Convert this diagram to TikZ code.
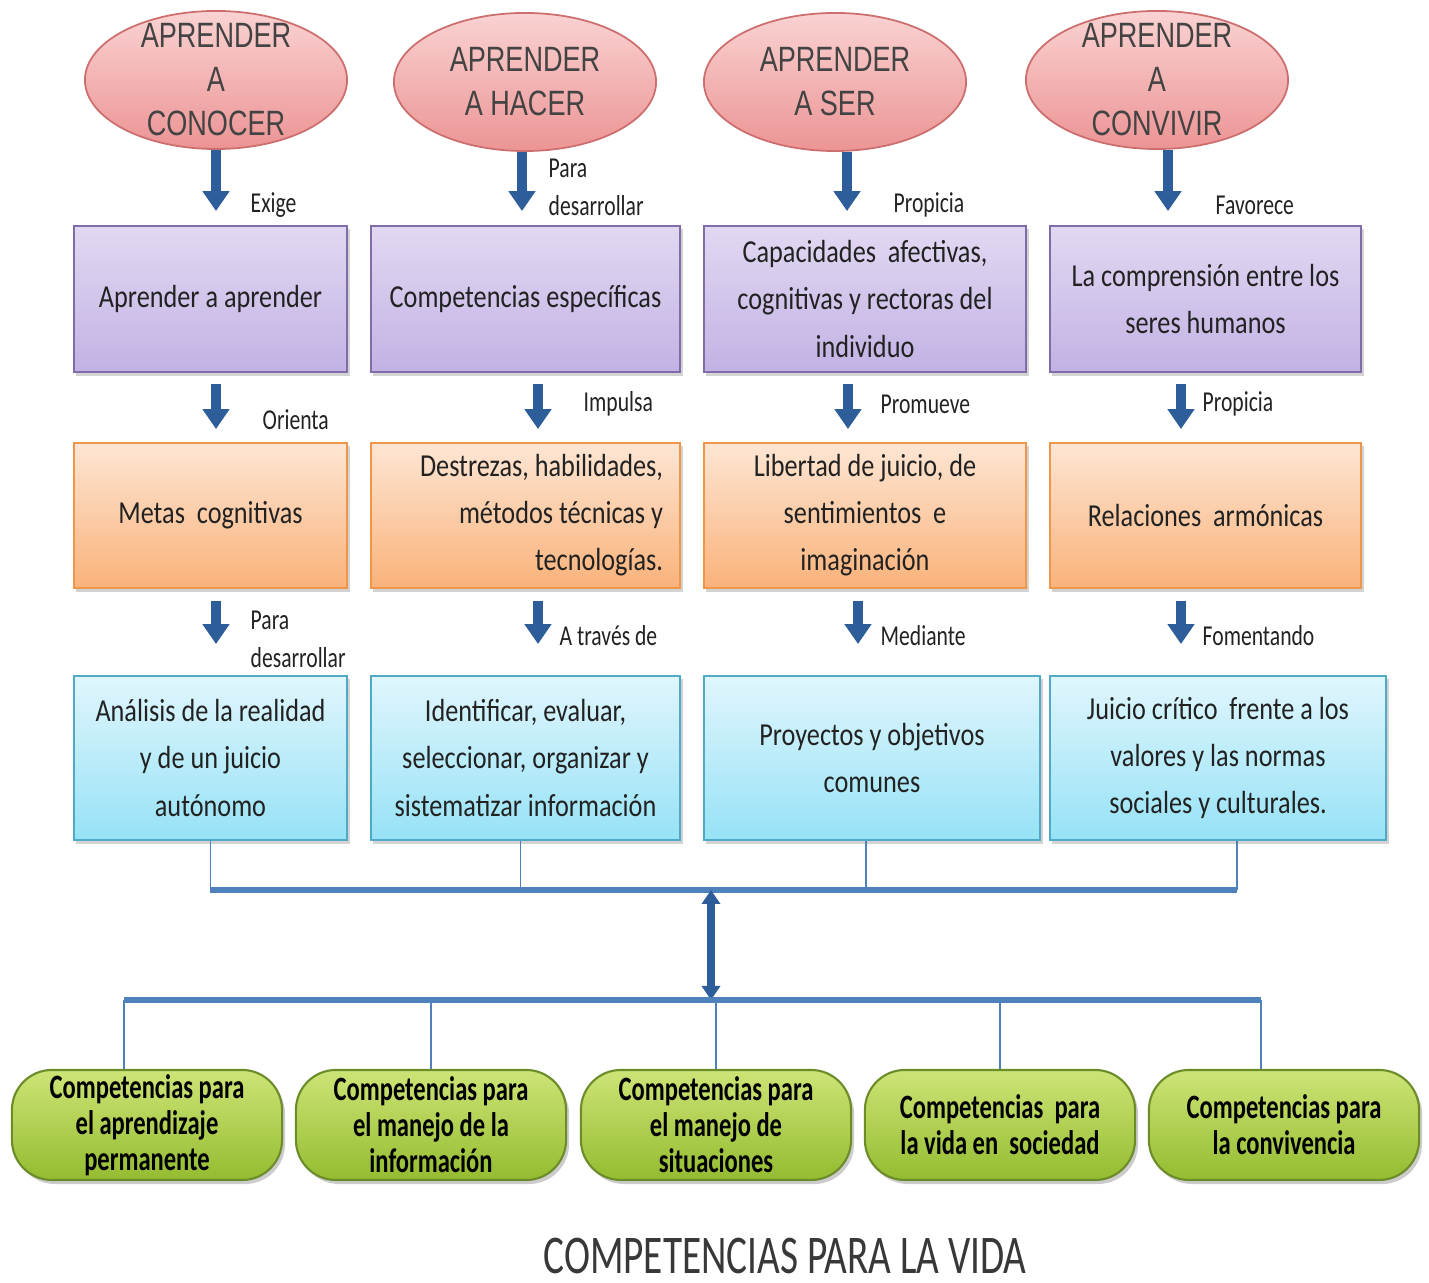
\documentclass[tikz,border=0pt]{standalone}
\usepackage{fontspec}
\setmainfont{Carlito}[FakeStretch=0.82]
\newfontfamily\lblfont{Carlito}[FakeStretch=0.75]
\newfontfamily\goalfont{Liberation Sans}[FakeStretch=0.77]
\newfontfamily\compfont{Carlito}[FakeStretch=0.72]
\newfontfamily\titlefont{Carlito}[FakeStretch=0.72]
\usetikzlibrary{shapes.geometric,arrows.meta,shadows}

\definecolor{goaltop}{RGB}{250,210,210}
\definecolor{goalbot}{RGB}{236,148,148}
\definecolor{goaledge}{RGB}{205,110,110}
\definecolor{lilatop}{RGB}{226,216,242}
\definecolor{lilabot}{RGB}{194,178,228}
\definecolor{lilaedge}{RGB}{128,108,168}
\definecolor{orangetop}{RGB}{253,230,212}
\definecolor{orangebot}{RGB}{250,178,122}
\definecolor{orangeedge}{RGB}{240,150,75}
\definecolor{cyantop}{RGB}{224,246,253}
\definecolor{cyanbot}{RGB}{150,226,246}
\definecolor{cyanedge}{RGB}{80,170,198}
\definecolor{greentop}{RGB}{205,228,118}
\definecolor{greenbot}{RGB}{148,188,48}
\definecolor{greenedge}{RGB}{108,140,42}
\definecolor{arrowblue}{RGB}{46,94,154}
\definecolor{barblue}{RGB}{79,129,189}
\definecolor{textdark}{RGB}{34,34,34}

\tikzset{
  goal/.style={ellipse, draw=goaledge, line width=0.5pt, top color=goaltop,
    bottom color=goalbot, minimum width=2.62cm, minimum height=1.38cm, inner sep=0pt},
  goaltxt/.style={font=\goalfont\fontsize{10}{12.5}\selectfont, text=textdark!85,
    align=center, inner sep=0pt},
  tile/.style={rectangle, draw, line width=0.5pt, inner sep=0pt, align=center,
    text=textdark, font=\fontsize{9.1}{13.4}\selectfont,
    drop shadow={shadow xshift=0.025cm, shadow yshift=-0.035cm, opacity=0.35}},
  lilabox/.style={tile, draw=lilaedge, top color=lilatop, bottom color=lilabot,
    minimum height=1.46cm},
  orangebox/.style={tile, draw=orangeedge, top color=orangetop, bottom color=orangebot,
    minimum height=1.45cm},
  cyanbox/.style={tile, draw=cyanedge, top color=cyantop, bottom color=cyanbot,
    minimum height=1.64cm},
  compbox/.style={rectangle, rounded corners=0.4cm, draw=greenedge, line width=0.6pt,
    top color=greentop, bottom color=greenbot, minimum width=2.7cm, minimum height=1.1cm,
    inner sep=0pt, align=center, font=\compfont\bfseries\fontsize{9.7}{10.2}\selectfont,
    drop shadow={shadow xshift=0.03cm, shadow yshift=-0.04cm, opacity=0.4}},
  flow/.style={arrowblue, line width=0.1cm, -{Triangle[width=0.26cm,length=0.2cm]}},
  hub/.style={arrowblue, line width=0.08cm,
    {Triangle[width=0.18cm,length=0.14cm]}-{Triangle[width=0.18cm,length=0.14cm]}},
  bar/.style={barblue, line width=0.06cm},
  stem/.style={barblue, line width=0.018cm},
  lbl/.style={font=\lblfont\fontsize{8.2}{10.8}\selectfont, text=textdark, anchor=west,
    align=left, inner sep=0pt},
}

\begin{document}
\begin{tikzpicture}[x=0.01cm, y=-0.01cm]
  \useasboundingbox (0,0) rectangle (1429,1283);

  % los cuatro pilares
  \node[goal, label={[goaltxt]center:{APRENDER\\A\\CONOCER}}] (e1) at (216,80) {};
  \node[goal, label={[goaltxt]center:{APRENDER\\A HACER}}] (e2) at (525,82) {};
  \node[goal, label={[goaltxt]center:{APRENDER\\A SER}}] (e3) at (835,82) {};
  \node[goal, label={[goaltxt]center:{APRENDER\\A\\CONVIVIR}}] (e4) at (1157,80) {};

  % primera fila
  \node[lilabox, minimum width=2.73cm] (b1) at (210.5,299) {Aprender a aprender};
  \node[lilabox, minimum width=3.09cm] (b2) at (525.5,299) {Competencias específicas};
  \node[lilabox, minimum width=3.22cm] (b3) at (865,299)
    {Capacidades\ \ afectivas,\\cognitivas y rectoras del\\individuo};
  \node[lilabox, minimum width=3.11cm] (b4) at (1205.5,299)
    {La comprensión entre los\\seres humanos};

  % segunda fila
  \node[orangebox, minimum width=2.73cm] (o1) at (210.5,515.5) {Metas\ \ cognitivas};
  \node[orangebox, minimum width=3.09cm, text width=2.75cm, align=flush right] (o2)
    at (525.5,515.5) {Destrezas, habilidades,\\métodos técnicas y\\tecnologías.};
  \node[orangebox, minimum width=3.22cm] (o3) at (865,515.5)
    {Libertad de juicio, de\\sentimientos\ \ e\\imaginación};
  \node[orangebox, minimum width=3.11cm] (o4) at (1205.5,515.5) {Relaciones\ \ armónicas};

  % tercera fila
  \node[cyanbox, minimum width=2.73cm] (c1) at (210.5,758)
    {Análisis de la realidad\\y de un juicio\\autónomo};
  \node[cyanbox, minimum width=3.09cm] (c2) at (525.5,758)
    {Identificar, evaluar,\\seleccionar, organizar y\\sistematizar información};
  \node[cyanbox, minimum width=3.36cm] (c3) at (872,758)
    {Proyectos y objetivos\\comunes};
  \node[cyanbox, minimum width=3.36cm] (c4) at (1218,758)
    {Juicio crítico\ \ frente a los\\valores y las normas\\sociales y culturales.};

  % competencias
  \node[compbox] (g1) at (147,1125) {Competencias\ para\\el aprendizaje\\permanente};
  \node[compbox] (g2) at (431,1125) {Competencias\ para\\el manejo de la\\información};
  \node[compbox] (g3) at (716,1125) {Competencias\ para\\el manejo de\\situaciones};
  \node[compbox] (g4) at (1000,1125) {Competencias\ \ para\\la vida en\ \ sociedad};
  \node[compbox] (g5) at (1284,1125) {Competencias\ para\\la convivencia};

  \node[font=\titlefont\fontsize{15.5}{18}\selectfont, text=textdark!90, inner sep=0pt]
    (title) at (785,1256) {COMPETENCIAS PARA LA VIDA};

  \coordinate (barL) at (210,890);
  \coordinate (barR) at (1237,890);
  \coordinate (hubT) at (711,890);
  \coordinate (hubB) at (711,1000);
  \coordinate (lowL) at (124,1000);
  \coordinate (lowR) at (1261,1000);

  % flechas verticales
  \begin{scope}[shorten >=0.14cm]
    \draw[flow] (e1.south) -- (e1.south |- b1.north);
    \draw[flow] ([xshift=-0.03cm]e2.south) -- ([xshift=-0.03cm]e2.south |- b2.north);
    \draw[flow] ([xshift=0.12cm]e3.south) -- ([xshift=0.12cm]e3.south |- b3.north);
    \draw[flow] ([xshift=0.11cm]e4.south) -- ([xshift=0.11cm]e4.south |- b4.north);
  \end{scope}
  \begin{scope}[shorten <=0.11cm, shorten >=0.13cm]
    \draw[flow] ([xshift=0.055cm]b1.south) -- ([xshift=0.055cm]b1.south |- o1.north);
    \draw[flow] ([xshift=0.125cm]b2.south) -- ([xshift=0.125cm]b2.south |- o2.north);
    \draw[flow] ([xshift=-0.17cm]b3.south) -- ([xshift=-0.17cm]b3.south |- o3.north);
    \draw[flow] ([xshift=-0.245cm]b4.south) -- ([xshift=-0.245cm]b4.south |- o4.north);
  \end{scope}
  \begin{scope}[shorten <=0.12cm, shorten >=0.31cm]
    \draw[flow] ([xshift=0.055cm]o1.south) -- ([xshift=0.055cm]o1.south |- c1.north);
    \draw[flow] ([xshift=0.125cm]o2.south) -- ([xshift=0.125cm]o2.south |- c2.north);
    \draw[flow] ([xshift=-0.07cm]o3.south) -- ([xshift=-0.07cm]o3.south |- c3.north);
    \draw[flow] ([xshift=-0.245cm]o4.south) -- ([xshift=-0.245cm]o4.south |- c4.north);
  \end{scope}

  % etiquetas de las flechas
  \node[lbl] (l1) at (250,205) {Exige};
  \node[lbl] (l2) at (548,187) {Para\\desarrollar};
  \node[lbl] (l3) at (893,205) {Propicia};
  \node[lbl] (l4) at (1215,205) {Favorece};
  \node[lbl] (l5) at (262,420) {Orienta};
  \node[lbl] (l6) at (583,404) {Impulsa};
  \node[lbl] (l7) at (880,404) {Promueve};
  \node[lbl] (l8) at (1202,404) {Propicia};
  \node[lbl] (l9) at (250,639) {Para\\desarrollar};
  \node[lbl] (l10) at (559,636) {A través de};
  \node[lbl] (l11) at (880,636) {Mediante};
  \node[lbl] (l12) at (1202,636) {Fomentando};

  % uniones
  \draw[stem] (c1.south) -- (c1.south |- barL);
  \draw[stem] ([xshift=-0.05cm]c2.south) -- ([xshift=-0.05cm]c2.south |- barL);
  \draw[stem] ([xshift=-0.06cm]c3.south) -- ([xshift=-0.06cm]c3.south |- barL);
  \draw[stem] ([xshift=0.19cm]c4.south) -- ([xshift=0.19cm]c4.south |- barL);
  \draw[bar] (barL) -- (barR);
  \draw[hub] (hubT) -- (hubB);
  \draw[bar] (lowL) -- (lowR);
  \draw[stem] (lowL) -- (lowL |- g1.north);
  \draw[stem] (g2.north |- lowL) -- (g2.north);
  \draw[stem] (g3.north |- lowL) -- (g3.north);
  \draw[stem] (g4.north |- lowL) -- (g4.north);
  \draw[stem] (lowR) -- (lowR |- g5.north);
\end{tikzpicture}
\end{document}
